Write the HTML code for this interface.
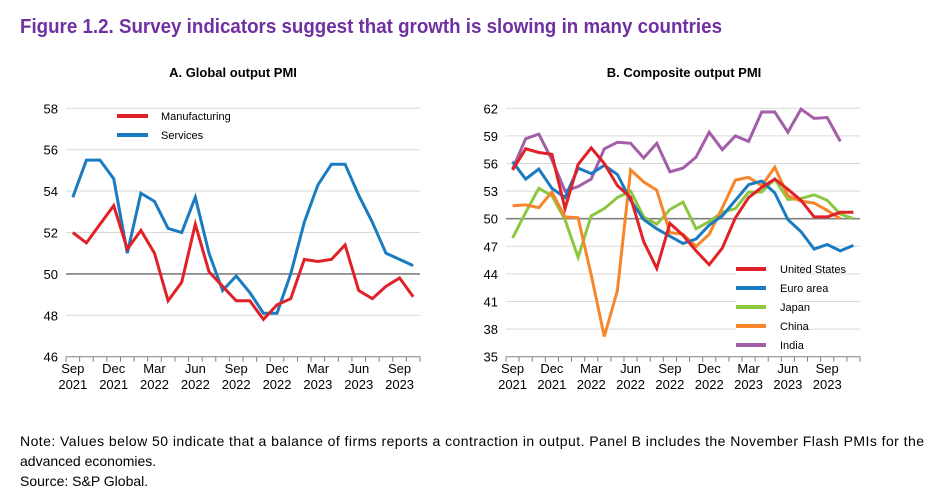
<!DOCTYPE html>
<html><head><meta charset="utf-8"><style>
html,body{margin:0;padding:0;background:#fff;width:941px;height:497px;overflow:hidden}
svg text{font-family:"Liberation Sans",Arial,sans-serif}
</style></head><body>
<svg id="s" width="941" height="497" xmlns="http://www.w3.org/2000/svg">
<text x="20" y="33" font-size="20" font-weight="bold" fill="#7030A0" textLength="702" lengthAdjust="spacingAndGlyphs">Figure 1.2. Survey indicators suggest that growth is slowing in many countries</text>
<text x="233" y="77" font-size="13" font-weight="bold" text-anchor="middle">A. Global output PMI</text>
<text x="684" y="77" font-size="13" font-weight="bold" text-anchor="middle">B. Composite output PMI</text>
<text x="20" y="446" font-size="14" textLength="904" lengthAdjust="spacing">Note: Values below 50 indicate that a balance of firms reports a contraction in output. Panel B includes the November Flash PMIs for the</text>
<text x="20" y="466" font-size="14">advanced economies.</text>
<text x="20" y="486" font-size="14">Source: S&amp;P Global.</text>
<g id="g"></g>
</svg>
<script>
var NS="http://www.w3.org/2000/svg",g=document.getElementById("g");
function el(t,a,txt){var e=document.createElementNS(NS,t);for(var k in a)e.setAttribute(k,a[k]);if(txt!=null)e.textContent=txt;g.appendChild(e);return e;}
function panel(o){
  var x0=o.x0,x1=o.x1,n=o.n,w=(x1-x0)/n,yt=108.3,yb=356.7;
  function Y(v){return yb-(v-o.min)/(o.max-o.min)*(yb-yt);}
  for(var v=o.min;v<=o.max;v+=o.step){
    var y=Y(v);
    if(v!=o.min&&v!=50) el("line",{x1:x0,x2:x1,y1:y,y2:y,stroke:"#d9d9d9","stroke-width":1});
    el("text",{x:x0-8,y:y+5,"font-size":13,"text-anchor":"end"},v);
  }
  el("line",{x1:x0,x2:x1,y1:Y(50),y2:Y(50),stroke:"#808080","stroke-width":1.6});
  el("line",{x1:x0,x2:x1,y1:yb,y2:yb,stroke:"#808080","stroke-width":1});
  for(var i=0;i<=n;i++) el("line",{x1:x0+i*w,x2:x0+i*w,y1:yb,y2:yb+5,stroke:"#808080","stroke-width":1});
  var labs=[["Sep","2021"],["Dec","2021"],["Mar","2022"],["Jun","2022"],["Sep","2022"],["Dec","2022"],["Mar","2023"],["Jun","2023"],["Sep","2023"]];
  for(var j=0;j<labs.length;j++){var cx=x0+(j*3+0.5)*w;
    el("text",{x:cx,y:373,"font-size":13,"text-anchor":"middle"},labs[j][0]);
    el("text",{x:cx,y:389,"font-size":13,"text-anchor":"middle"},labs[j][1]);}
  o.series.forEach(function(s){
    var p=s.d.map(function(v,i){return (x0+(i+0.5)*w).toFixed(1)+","+Y(v).toFixed(1)}).join(" ");
    el("polyline",{points:p,fill:"none",stroke:s.c,"stroke-width":3,"stroke-linejoin":"miter"});
  });
}
var R="#e02127",B="#1a7bc0",G="#8dc63f",O="#f7862a",P="#a35ea8";
panel({x0:66,x1:420,n:26,min:46,max:58,step:2,series:[
 {c:B,d:[53.7,55.5,55.5,54.6,51.0,53.9,53.5,52.2,52.0,53.7,51.0,49.2,49.9,49.1,48.1,48.1,50.0,52.5,54.3,55.3,55.3,53.8,52.5,51.0,50.7,50.4]},
 {c:R,d:[52.0,51.5,52.4,53.3,51.2,52.1,51.0,48.7,49.6,52.4,50.1,49.4,48.7,48.7,47.8,48.5,48.8,50.7,50.6,50.7,51.4,49.2,48.8,49.4,49.8,48.9]}]});
panel({x0:506,x1:860,n:27,min:35,max:62,step:3,series:[
 {c:P,d:[55.4,58.7,59.2,56.4,53.0,53.5,54.3,57.6,58.3,58.2,56.6,58.2,55.1,55.5,56.7,59.4,57.5,59.0,58.4,61.6,61.6,59.4,61.9,60.9,61.0,58.4]},
 {c:G,d:[47.9,50.7,53.3,52.5,49.9,45.8,50.3,51.1,52.3,53.0,50.2,49.4,51.0,51.8,48.9,49.7,50.7,51.1,52.9,52.9,54.3,52.1,52.2,52.6,52.0,50.5,50.0]},
 {c:O,d:[51.4,51.5,51.2,52.9,50.2,50.1,43.9,37.2,42.2,55.3,54.0,53.1,48.5,48.3,47.0,48.3,51.2,54.2,54.5,53.6,55.6,52.5,51.9,51.7,50.9,50.0]},
 {c:B,d:[56.2,54.3,55.4,53.3,52.3,55.5,54.9,55.8,54.8,52.0,49.9,48.9,48.1,47.3,47.8,49.3,50.3,52.0,53.7,54.1,52.8,49.9,48.6,46.7,47.2,46.5,47.1]},
 {c:R,d:[55.3,57.6,57.2,57.0,51.1,55.9,57.7,56.0,53.6,52.3,47.5,44.6,49.5,48.2,46.5,45.0,46.8,50.1,52.3,53.4,54.3,53.2,52.0,50.2,50.2,50.7,50.7]}]});
// legends
[[R,"Manufacturing",116],[B,"Services",135]].forEach(function(l){
 el("line",{x1:117,x2:148,y1:l[2],y2:l[2],stroke:l[0],"stroke-width":4});
 el("text",{x:161,y:l[2]+4,"font-size":11},l[1]);});
[[R,"United States",269],[B,"Euro area",288],[G,"Japan",307],[O,"China",326],[P,"India",345]].forEach(function(l){
 el("rect",{x:736,y:l[2]-7,width:62,height:14,fill:"#fff"});
 el("line",{x1:736,x2:766,y1:l[2],y2:l[2],stroke:l[0],"stroke-width":4});
 el("text",{x:780,y:l[2]+4,"font-size":11},l[1]);});
</script>
</body></html>
